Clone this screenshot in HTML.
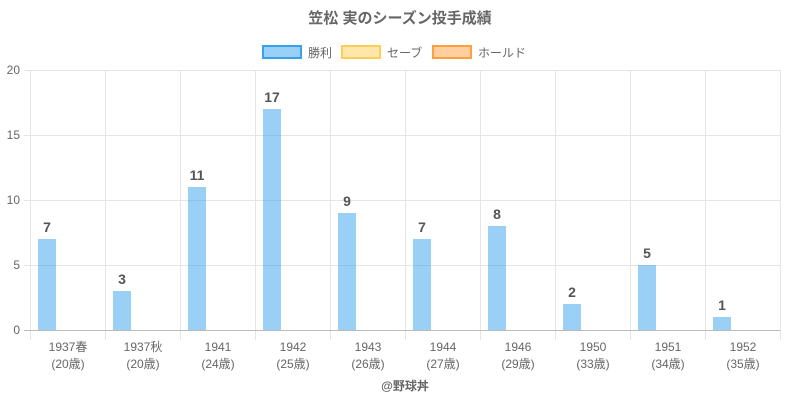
<!DOCTYPE html>
<html><head><meta charset="utf-8"><style>
html,body{margin:0;padding:0;background:#fff;}
svg text{font-family:"Liberation Sans","Noto Sans CJK JP",sans-serif;}
</style></head><body>
<svg width="800" height="400" xmlns="http://www.w3.org/2000/svg">
<text x="400" y="23" text-anchor="middle" font-size="15" font-weight="bold" fill="#666">笠松 実のシーズン投手成績</text>
<rect x="263" y="46" width="38" height="12" fill="rgba(54,162,235,0.5)" stroke="#36a2eb" stroke-width="2"/>
<text x="308" y="57" font-size="12" fill="#666">勝利</text>
<rect x="342" y="46" width="38" height="12" fill="rgba(255,205,86,0.5)" stroke="#ffcd56" stroke-width="2"/>
<text x="387" y="57" font-size="12" fill="#666">セーブ</text>
<rect x="433" y="46" width="38" height="12" fill="rgba(255,159,64,0.5)" stroke="#ff9f40" stroke-width="2"/>
<text x="478" y="57" font-size="12" fill="#666">ホールド</text>
<g stroke="#e5e5e5" stroke-width="1">
<line x1="24" y1="70.5" x2="780" y2="70.5"/>
<line x1="24" y1="135.5" x2="780" y2="135.5"/>
<line x1="24" y1="200.5" x2="780" y2="200.5"/>
<line x1="24" y1="265.5" x2="780" y2="265.5"/>
<line x1="30.5" y1="70" x2="30.5" y2="340"/>
<line x1="105.5" y1="70" x2="105.5" y2="340"/>
<line x1="180.5" y1="70" x2="180.5" y2="340"/>
<line x1="255.5" y1="70" x2="255.5" y2="340"/>
<line x1="330.5" y1="70" x2="330.5" y2="340"/>
<line x1="405.5" y1="70" x2="405.5" y2="340"/>
<line x1="480.5" y1="70" x2="480.5" y2="340"/>
<line x1="555.5" y1="70" x2="555.5" y2="340"/>
<line x1="630.5" y1="70" x2="630.5" y2="340"/>
<line x1="705.5" y1="70" x2="705.5" y2="340"/>
<line x1="780.5" y1="70" x2="780.5" y2="340"/>
</g>
<line x1="24" y1="330.5" x2="780" y2="330.5" stroke="#bbb"/>
<g font-size="12" fill="#666" text-anchor="end">
<text x="20" y="74">20</text><text x="20" y="139">15</text><text x="20" y="204">10</text><text x="20" y="269">5</text><text x="20" y="334">0</text>
</g>
<g fill="rgba(54,162,235,0.5)">
<rect x="38" y="239" width="18" height="91"/>
<rect x="113" y="291" width="18" height="39"/>
<rect x="188" y="187" width="18" height="143"/>
<rect x="263" y="109" width="18" height="221"/>
<rect x="338" y="213" width="18" height="117"/>
<rect x="413" y="239" width="18" height="91"/>
<rect x="488" y="226" width="18" height="104"/>
<rect x="563" y="304" width="18" height="26"/>
<rect x="638" y="265" width="18" height="65"/>
<rect x="713" y="317" width="18" height="13"/>
</g>
<g font-size="14" font-weight="bold" fill="#555" text-anchor="middle">
<text x="47" y="232">7</text><text x="122" y="284">3</text><text x="197" y="180">11</text><text x="272" y="102">17</text><text x="347" y="206">9</text><text x="422" y="232">7</text><text x="497" y="219">8</text><text x="572" y="297">2</text><text x="647" y="258">5</text><text x="722" y="310">1</text>
</g>
<g font-size="12" fill="#666" text-anchor="middle">
<text x="68" y="351">1937春</text><text x="68" y="368">(20歳)</text>
<text x="143" y="351">1937秋</text><text x="143" y="368">(20歳)</text>
<text x="218" y="351">1941</text><text x="218" y="368">(24歳)</text>
<text x="293" y="351">1942</text><text x="293" y="368">(25歳)</text>
<text x="368" y="351">1943</text><text x="368" y="368">(26歳)</text>
<text x="443" y="351">1944</text><text x="443" y="368">(27歳)</text>
<text x="518" y="351">1946</text><text x="518" y="368">(29歳)</text>
<text x="593" y="351">1950</text><text x="593" y="368">(33歳)</text>
<text x="668" y="351">1951</text><text x="668" y="368">(34歳)</text>
<text x="743" y="351">1952</text><text x="743" y="368">(35歳)</text>
</g>
<text x="405" y="390" text-anchor="middle" font-size="12" font-weight="bold" fill="#666">@野球丼</text>
</svg>
</body></html>
